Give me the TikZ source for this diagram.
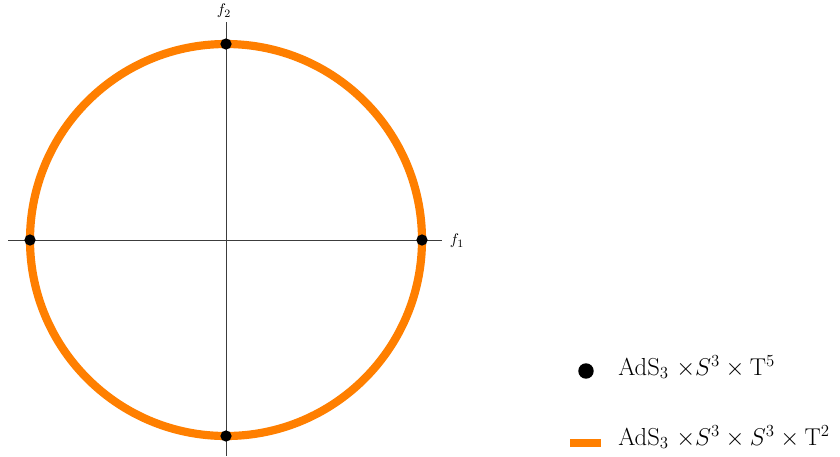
\documentclass[tikz,border=0pt]{standalone}
\usepackage{amsmath}
\usepackage{tikz}
\usetikzlibrary{positioning}
\definecolor{myorange}{RGB}{255,127,0}
\definecolor{myaxis}{RGB}{60,60,60}
\tikzset{
  axisline/.style={line width=0.6pt, color=myaxis},
  moduli/.style={line width=5.8pt, color=myorange},
  pointdot/.style={circle, fill=black, inner sep=0pt, minimum size=8pt},
  legdot/.style={circle, fill=black, inner sep=0pt, minimum size=11pt},
  legbar/.style={rectangle, fill=myorange, inner sep=0pt, minimum width=22pt, minimum height=5.6pt},
  axislabel/.style={font=\fontsize{11}{12}\selectfont, inner sep=1pt},
  legtext/.style={anchor=base west, inner sep=0pt, font=\fontsize{17.5}{20}\selectfont}
}

\begin{document}
\begin{tikzpicture}[x=0.025cm, y=-0.025cm]
  \useasboundingbox (0,0) rectangle (840,456);

  % Axes
  \coordinate (xl) at (8,240);
  \coordinate (xr) at (442,240);
  \coordinate (yt) at (226,22);
  \coordinate (yb) at (226,456);
  \draw[axisline] (xl) -- (xr);
  \draw[axisline] (yt) -- (yb);
  \node[axislabel] (lf1) at (457,241) {$f_1$};
  \node[axislabel] (lf2) at (224,11) {$f_2$};

  % Circle of solutions
  \draw[moduli] (226,240) circle[radius=196];

  % Special points
  \node[pointdot] (pE) at (422,240) {};
  \node[pointdot] (pN) at (226,44) {};
  \node[pointdot] (pW) at (30,240) {};
  \node[pointdot] (pS) at (226,436) {};

  % Legend
  \node[legdot] (ldot) at (586,371) {};
  \node[legtext] (ltxt1) at (618,375) {AdS$_3$ ${\times}S^3 \times \mathrm{T}^5$};
  \node[legbar] (lbar) at (585.5,443) {};
  \node[legtext] (ltxt2) at (618,445) {AdS$_3$ ${\times}S^3 \times S^3 \times \mathrm{T}^2$};
\end{tikzpicture}
\end{document}
